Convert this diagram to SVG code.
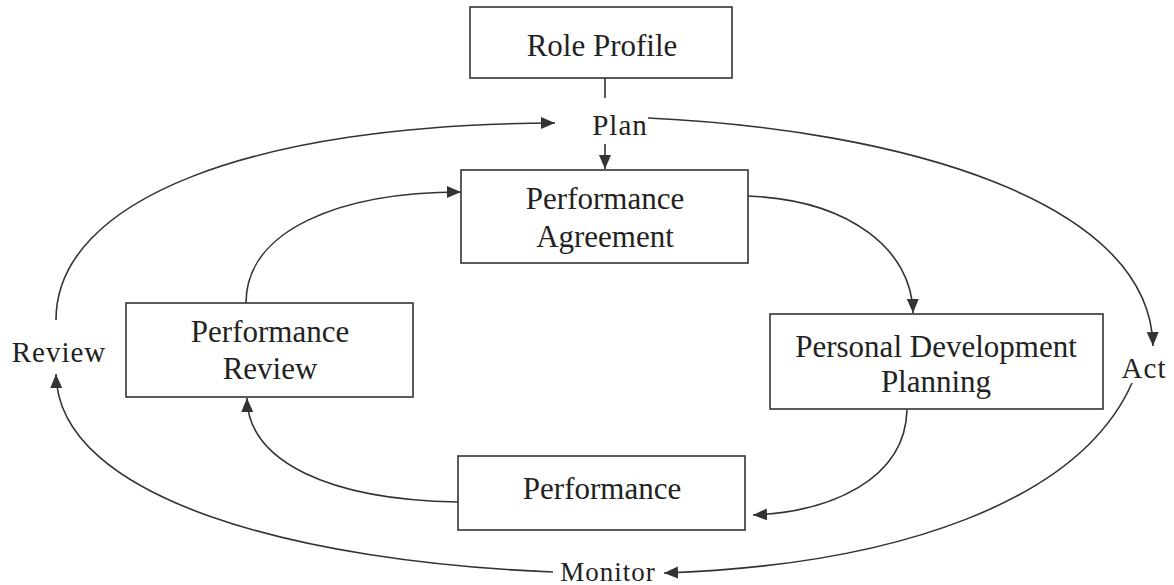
<svg xmlns="http://www.w3.org/2000/svg" width="1174" height="585" viewBox="0 0 1174 585">
<defs>
<marker id="ah" markerUnits="userSpaceOnUse" markerWidth="16" markerHeight="14" refX="14" refY="6" orient="auto">
<path d="M0,0 L14,6 L0,12 Z" fill="#333"/>
</marker>
<style>
.box{fill:#fff;stroke:#333;stroke-width:1.6}
.t{font-family:"Liberation Serif","Times New Roman",serif;font-size:31px;fill:#222;text-anchor:middle}
.lb{font-family:"Liberation Serif","Times New Roman",serif;font-size:29px;fill:#222;text-anchor:middle;letter-spacing:1px}
.c{fill:none;stroke:#333;stroke-width:1.6}
.ca{fill:none;stroke:#333;stroke-width:1.6;marker-end:url(#ah)}
</style>
</defs>
<rect width="1174" height="585" fill="#fff"/>
<g id="connectors">
<line class="c" x1="605" y1="78" x2="605" y2="98"/>
<line class="ca" x1="605" y1="144" x2="605" y2="169"/>
<path class="ca" d="M56,320 C56,200 250,124 555,123"/>
<path class="ca" d="M648,118 C900,130 1150,200 1153,346"/>
<path class="ca" d="M246,303 C246,230 340,192 461,192"/>
<path class="ca" d="M748,196 C850,200 912,250 913,313"/>
<path class="ca" d="M907,410 C905,480 830,512 753,515"/>
<path class="ca" d="M458,502 C330,500 248,462 247,398"/>
<path class="ca" d="M553,572 C300,562 58,500 56,374"/>
<path class="ca" d="M1132,383 C1080,500 900,565 664,573"/>
</g>
<g id="role-profile">
<rect class="box" x="470" y="7" width="262" height="71"/>
<text class="t" x="602" y="56">Role Profile</text>
</g>
<g id="performance-agreement">
<rect class="box" x="461" y="170" width="287" height="93"/>
<text class="t" x="605" y="209">Performance</text>
<text class="t" x="605" y="247">Agreement</text>
</g>
<g id="personal-development-planning">
<rect class="box" x="770" y="314" width="333" height="95"/>
<text class="t" x="936" y="357">Personal Development</text>
<text class="t" x="936" y="392">Planning</text>
</g>
<g id="performance">
<rect class="box" x="458" y="456" width="287" height="74"/>
<text class="t" x="602" y="499">Performance</text>
</g>
<g id="performance-review">
<rect class="box" x="126" y="303" width="287" height="94"/>
<text class="t" x="270" y="342">Performance</text>
<text class="t" x="270" y="379">Review</text>
</g>
<g id="labels">
<text class="lb" x="620" y="135">Plan</text>
<text class="lb" x="59" y="362">Review</text>
<text class="lb" x="1144" y="378">Act</text>
<text class="lb" x="608" y="581" style="font-size:27px">Monitor</text>
</g>
</svg>
